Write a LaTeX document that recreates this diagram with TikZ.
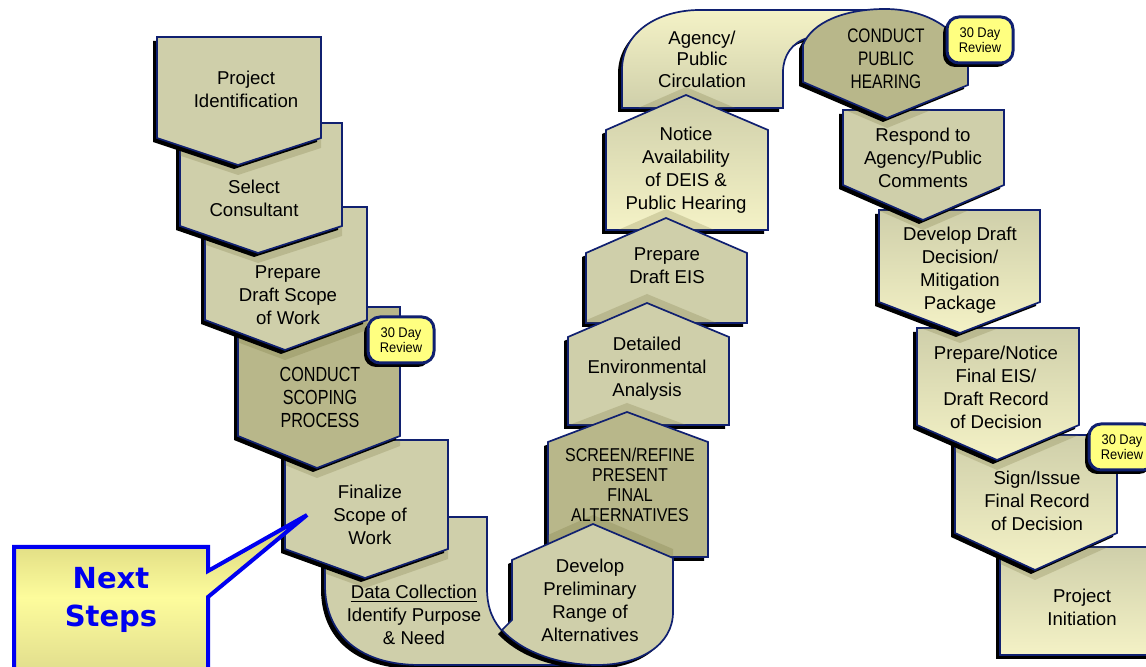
\documentclass[tikz,border=0pt]{standalone}
\usepackage{fontspec}
\setmainfont{Liberation Sans}
\newfontfamily\condfont[FakeStretch=0.86]{Liberation Sans}
\newfontfamily\narrowfont[FakeStretch=0.79]{Liberation Sans}
\newfontfamily\badgefont[FakeStretch=0.92]{Liberation Sans}
\newfontfamily\nsfont{DejaVu Sans}
\usetikzlibrary{shadows}
\definecolor{navy}{RGB}{16,32,112}
\definecolor{lightfill}{RGB}{207,207,170}
\definecolor{darkfill}{RGB}{184,183,138}
\definecolor{paleyel}{RGB}{244,242,198}
\definecolor{bandcol}{RGB}{110,106,50}
\definecolor{badgeyel}{RGB}{255,255,128}
\definecolor{nsblue}{RGB}{0,0,240}
\definecolor{calltop}{RGB}{210,205,120}
\definecolor{callmid}{RGB}{253,252,156}
\definecolor{callbot}{RGB}{222,218,140}

\newcommand\Shape[2]{\fill[black,shift={(-4,4)}] #2; \path[shapeline,#1] #2;}
\newcommand\Band[3]{\begin{scope}\clip #1; \fill[bandcol,fill opacity=0.22,shift={#3}] #2; \end{scope}}

\def\pProjInit{(1000,547) -- (1160,547) -- (1160,655) -- (1000,655) -- cycle}
\def\pSign{(955,435) -- (1117,435) -- (1117,533) -- (1035,570) -- (955,533) -- cycle}
\def\pPrepNotice{(917,328) -- (1079,328) -- (1079,425) -- (997,460) -- (917,425) -- cycle}
\def\pDevDraft{(879,210) -- (1040,210) -- (1040,302) -- (960,333) -- (879,302) -- cycle}
\def\pRespond{(843,110) -- (1004,110) -- (1004,185) -- (923,220) -- (843,185) -- cycle}
\def\pConductPH{(803,45) .. controls (812,22) and (845,9) .. (885,9) .. controls (925,9) and (958,28) .. (968,58) -- (968,85) -- (887,118) -- (803,82) -- cycle}
\def\pAgency{(622,108) -- (622,70) .. controls (622,32) and (658,10) .. (700,10) -- (870,10) -- (870,35) -- (808,38) .. controls (792,42) and (783,56) .. (783,72) -- (783,108) -- cycle}
\def\pNotice{(606,230) -- (606,130) -- (686,95) -- (768,130) -- (768,230) -- cycle}
\def\pPrepEIS{(586,323) -- (586,253) -- (666,218) -- (747,253) -- (747,323) -- cycle}
\def\pDetailed{(568,425) -- (568,337) -- (647,303) -- (729,337) -- (729,425) -- cycle}
\def\pScreen{(548,557) -- (548,442) -- (627,412) -- (708,442) -- (708,557) -- cycle}
\def\pData{(325,517) -- (487,517) -- (487,588) .. controls (487,610) and (494,622) .. (503,632) -- (600,665) -- (420,665) .. controls (360,665) and (325,635) .. (325,585) -- cycle}
\def\pDevelop{(593,524) -- (673,558) -- (673,612) .. controls (673,645) and (640,665) .. (597,665) .. controls (555,665) and (520,650) .. (502,630) -- (512,620) -- (512,560) -- cycle}
\def\pFinalize{(285,440) -- (448,440) -- (448,549) -- (365,578) -- (285,549) -- cycle}
\def\pConductSc{(238,307) -- (400,307) -- (400,436) -- (317,468) -- (238,436) -- cycle}
\def\pPrepare{(205,207) -- (367,207) -- (367,320) -- (285,350) -- (205,320) -- cycle}
\def\pSelect{(180,123) -- (342,123) -- (342,226) -- (258,253) -- (180,226) -- cycle}
\def\pProjId{(157,37) -- (321,37) -- (321,138) -- (238,165) -- (157,138) -- cycle}

\begin{document}
\begin{tikzpicture}[x=0.5pt,y=-0.5pt,
  shapeline/.style={draw=navy,line width=0.85pt,line join=miter},
  lightshape/.style={fill=lightfill},
  darkshape/.style={fill=darkfill},
  gradshape/.style={top color=lightfill,bottom color=paleyel},
  agencyshape/.style={top color=paleyel,bottom color=lightfill},
  lbl/.style={align=center,inner sep=0pt,text=black,font=\fontsize{9.3}{11.5}\selectfont},
  capslbl/.style={align=center,inner sep=0pt,text=black,font=\narrowfont\fontsize{10.2}{11.5}\selectfont},
  badge/.style={draw=navy,line width=1.5pt,fill=badgeyel,rounded corners=6pt,
    minimum width=33pt,minimum height=23pt,inner sep=0pt,align=center,
    font=\badgefont\fontsize{7}{7.6}\selectfont,
    drop shadow={shadow xshift=-2pt,shadow yshift=-2pt,opacity=1,fill=black}},
  callout/.style={draw=nsblue,line width=2pt,line join=miter,top color=calltop,bottom color=callbot,middle color=callmid},
  nslbl/.style={align=center,inner sep=0pt,text=nsblue,font=\nsfont\bfseries\fontsize{14.5}{19}\selectfont}]
\useasboundingbox (0,0) rectangle (1146,667);
\clip (0,0) rectangle (1146,667);
\fill[white] (0,0) rectangle (1146,667);

% right column
\Shape{gradshape}{\pProjInit}
\Band{\pProjInit}{\pSign}{(0,10)}
\Shape{gradshape}{\pSign}
\Band{\pSign}{\pPrepNotice}{(0,10)}
\Shape{gradshape}{\pPrepNotice}
\Band{\pPrepNotice}{\pDevDraft}{(0,10)}
\Shape{gradshape}{\pDevDraft}
\Band{\pDevDraft}{\pRespond}{(0,10)}
\Shape{lightshape}{\pRespond}
\Band{\pRespond}{\pConductPH}{(0,10)}
% arch
\Shape{agencyshape}{\pAgency}
\Shape{darkshape}{\pConductPH}
% middle column
\Band{\pAgency}{\pNotice}{(0,-8)}
\Shape{gradshape}{\pNotice}
\Band{\pNotice}{\pPrepEIS}{(0,-9)}
\Shape{lightshape}{\pPrepEIS}
\Band{\pPrepEIS}{\pDetailed}{(0,-9)}
\Shape{lightshape}{\pDetailed}
\Band{\pDetailed}{\pScreen}{(0,-9)}
\Shape{darkshape}{\pScreen}
% bottom U
\Shape{lightshape}{\pData}
\Band{\pScreen}{\pDevelop}{(0,-9)}
\Shape{lightshape}{\pDevelop}
% left column
\Band{\pData}{\pFinalize}{(0,10)}
\Shape{lightshape}{\pFinalize}
\Band{\pFinalize}{\pConductSc}{(0,10)}
\Shape{darkshape}{\pConductSc}
\Band{\pConductSc}{\pPrepare}{(0,10)}
\Shape{lightshape}{\pPrepare}
\Band{\pPrepare}{\pSelect}{(0,10)}
\Shape{lightshape}{\pSelect}
\Band{\pSelect}{\pProjId}{(0,10)}
\Shape{lightshape}{\pProjId}

% badges
\node[badge] (revA) at (401,340) {30 Day\\Review};
\node[badge] (revB) at (980,40) {30 Day\\Review};
\node[badge] (revC) at (1122,447) {30 Day\\Review};

% labels
\node[lbl] (tProjId) at (246,89) {Project\\Identification};
\node[lbl] (tSelect) at (254,198) {Select\\Consultant};
\node[lbl] (tPrepare) at (288,295) {Prepare\\Draft Scope\\of Work};
\node[capslbl] (tConductSc) at (320,397) {CONDUCT\\SCOPING\\PROCESS};
\node[lbl] (tFinalize) at (370,515) {Finalize\\Scope of\\Work};
\node[lbl] (tData) at (414,615) {\underline{Data Collection}\\Identify Purpose\\\& Need};
\node[lbl] (tDevelop) at (590,600) {Develop\\Preliminary\\Range of\\Alternatives};
\node[capslbl,font=\condfont\fontsize{9.3}{10}\selectfont] (tScreen) at (630,485) {SCREEN/REFINE\\PRESENT\\FINAL\\ALTERNATIVES};
\node[lbl] (tDetailed) at (647,369) {Detailed\\Environmental\\Analysis};
\node[lbl] (tPrepEIS) at (667,266) {Prepare\\Draft EIS};
\node[lbl] (tNotice) at (686,170) {Notice\\Availability\\of DEIS \&\\Public Hearing};
\node[lbl,font=\fontsize{9.3}{10.8}\selectfont] (tAgency) at (702,59) {Agency/\\Public\\Circulation};
\node[capslbl,font=\narrowfont\fontsize{9.8}{11.5}\selectfont] (tConductPH) at (886,59) {CONDUCT\\PUBLIC\\HEARING};
\node[lbl] (tRespond) at (923,158) {Respond to\\Agency/Public\\Comments};
\node[lbl] (tDevDraft) at (960,270) {Develop Draft\\Decision/\\Mitigation\\Package};
\node[lbl] (tPrepNotice) at (996,387) {Prepare/Notice\\Final EIS/\\Draft Record\\of Decision};
\node[lbl] (tSign) at (1037,501) {Sign/Issue\\Final Record\\of Decision};
\node[lbl] (tProjInit) at (1082,607) {Project\\Initiation};

% callout
\coordinate (calltip) at (307,515);
\path[callout] (14,547) -- (208,547) -- (208,571) -- (calltip) -- (208,597) -- (208,680) -- (14,680) -- cycle;
\node[nslbl] (tNext) at (111,600) {Next\\Steps};
\end{tikzpicture}
\end{document}
